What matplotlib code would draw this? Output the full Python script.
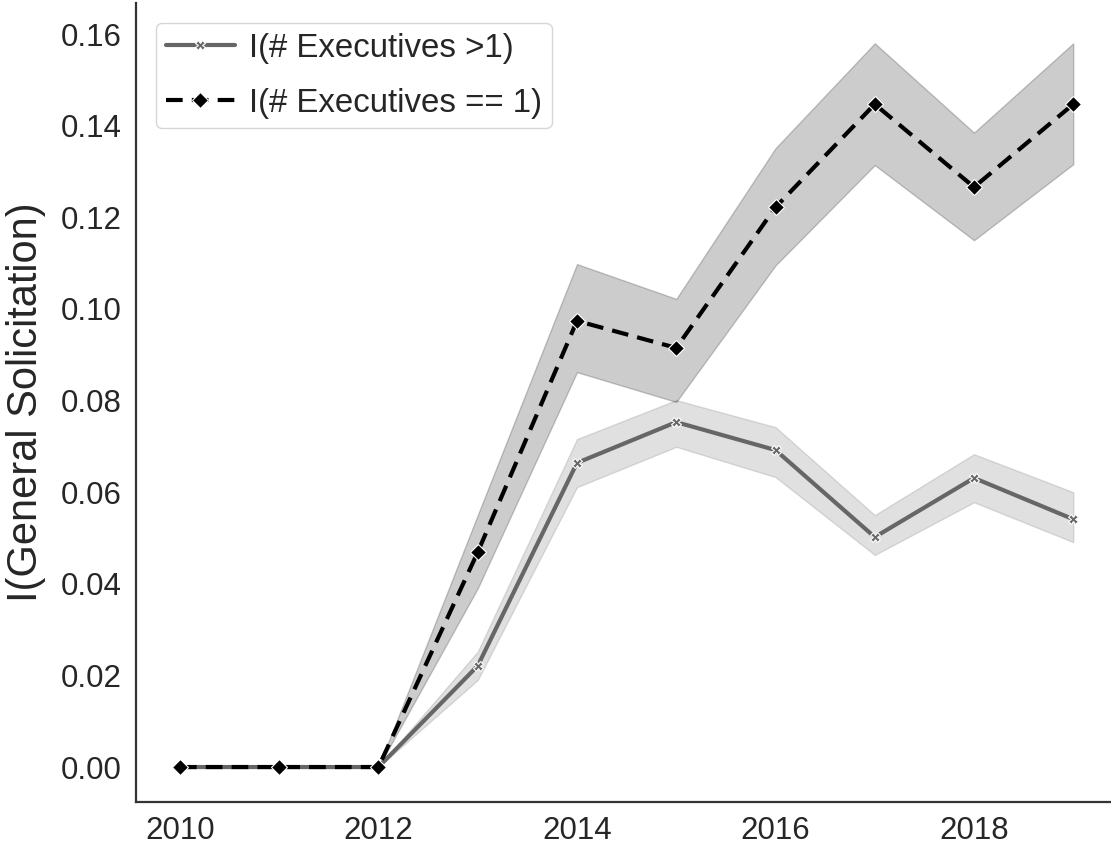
import matplotlib
matplotlib.use("Agg")
import matplotlib.pyplot as plt
import seaborn as sns

years = [2010, 2011, 2012, 2013, 2014, 2015, 2016, 2017, 2018, 2019]

# I(# Executives >1)
multi_mean = [0.0, 0.0, 0.0, 0.0221, 0.0664, 0.0753, 0.0692, 0.0502, 0.0631, 0.0541]
multi_low = [0.0, 0.0, 0.0, 0.0190, 0.0611, 0.0699, 0.0633, 0.0463, 0.0578, 0.0491]
multi_high = [0.0, 0.0, 0.0, 0.0252, 0.0716, 0.0801, 0.0742, 0.0550, 0.0683, 0.0600]

# I(# Executives == 1)
single_mean = [0.0, 0.0, 0.0, 0.0469, 0.0974, 0.0915, 0.1222, 0.1447, 0.1266, 0.1447]
single_low = [0.0, 0.0, 0.0, 0.0390, 0.0862, 0.0797, 0.1095, 0.1314, 0.1150, 0.1316]
single_high = [0.0, 0.0, 0.0, 0.0550, 0.1098, 0.1022, 0.1351, 0.1580, 0.1385, 0.1580]

sns.set_style("white")
plt.rcParams['font.family'] = ['Liberation Sans', 'DejaVu Sans']

fig = plt.figure(figsize=(11.11, 8.48), dpi=100)
ax = fig.add_axes([0.1224, 0.0542, 0.8776, 0.9423])

grey = '#666666'
ax.fill_between(years, multi_low, multi_high, color=grey, alpha=0.2, linewidth=1)
ax.fill_between(years, single_low, single_high, color='black', alpha=0.2, linewidth=1)

ax.plot(years, multi_mean, color=grey, linewidth=3, marker='X', markersize=7,
        markeredgecolor='white', markeredgewidth=0.8, label='I(# Executives >1)')
ax.plot(years, single_mean, color='black', linewidth=3, linestyle=(0, (4, 2.2)),
        marker='D', markersize=8, markeredgecolor='white', markeredgewidth=0.8,
        label='I(# Executives == 1)')

ax.set_xlim(2009.557, 2019.38)
ax.set_ylim(-0.00764, 0.1668)
ax.set_xticks([2010, 2012, 2014, 2016, 2018])
ax.set_yticks([0.0, 0.02, 0.04, 0.06, 0.08, 0.10, 0.12, 0.14, 0.16])
ax.set_yticklabels(['%.2f' % v for v in ax.get_yticks()])
ax.tick_params(axis='both', labelsize=22.5, colors='#262626', length=0, pad=10)
ax.set_ylabel('I(General Solicitation)', fontsize=30, color='#262626', labelpad=11)

for side in ['top', 'right']:
    ax.spines[side].set_visible(False)
for side in ['left', 'bottom']:
    ax.spines[side].set_color('#333333')
    ax.spines[side].set_linewidth(1.6)

leg = ax.legend(loc='upper left', fontsize=23.8, handlelength=2.1, borderpad=0.3,
                labelspacing=0.72, handletextpad=0.42, borderaxespad=0.6)
for t in leg.get_texts():
    t.set_color('#262626')

fig.savefig('out.png', dpi=100)
